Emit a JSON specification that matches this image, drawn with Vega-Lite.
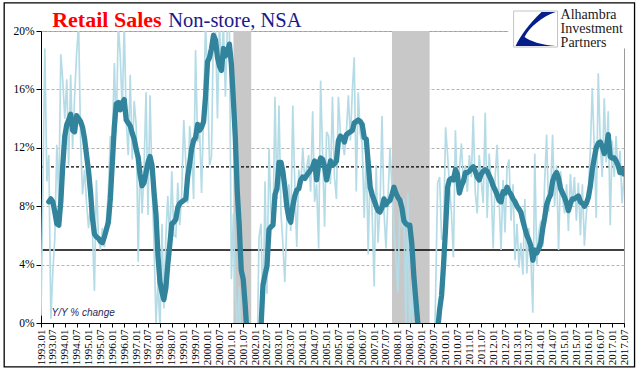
{
"$schema": "https://vega.github.io/schema/vega-lite/v6.json",
"width": 583, "height": 292,
"autosize": {"type": "none"},
"padding": {"left": 41, "top": 31, "right": 17, "bottom": 52},
"background": "white",
"config": {"view": {"stroke": "#9a9a9a", "strokeWidth": 1}, "font": "Liberation Serif"},
"data": {"format": {"parse": {"d": "utc:'%Y-%m'"}}, "values": [
{"d":"1993-01","m":0.5,"a":null},{"d":"1993-02","m":10.0,"a":null},{"d":"1993-03","m":18.8,"a":null},{"d":"1993-04","m":9.7,"a":null},{"d":"1993-05","m":11.5,"a":8.3},{"d":"1993-06","m":0.3,"a":8.5},{"d":"1993-07","m":3.5,"a":8.3},{"d":"1993-08","m":5.8,"a":7.6},{"d":"1993-09","m":12.2,"a":6.8},{"d":"1993-10","m":8.3,"a":6.7},{"d":"1993-11","m":18.4,"a":8.3},{"d":"1993-12","m":16.6,"a":10.8},
{"d":"1994-01","m":14.0,"a":12.8},{"d":"1994-02","m":16.7,"a":13.6},{"d":"1994-03","m":10.8,"a":13.9},{"d":"1994-04","m":17.0,"a":14.3},{"d":"1994-05","m":12.0,"a":13.2},{"d":"1994-06","m":15.5,"a":13.1},{"d":"1994-07","m":18.4,"a":14.2},{"d":"1994-08","m":20.5,"a":14.0},{"d":"1994-09","m":12.5,"a":13.8},{"d":"1994-10","m":8.8,"a":13.4},{"d":"1994-11","m":10.5,"a":12.6},{"d":"1994-12","m":8.2,"a":11.5},
{"d":"1995-01","m":6.5,"a":10.4},{"d":"1995-02","m":8.2,"a":8.9},{"d":"1995-03","m":6.3,"a":7.2},{"d":"1995-04","m":2.2,"a":6.1},{"d":"1995-05","m":9.8,"a":5.9},{"d":"1995-06","m":6.0,"a":5.8},{"d":"1995-07","m":5.0,"a":5.6},{"d":"1995-08","m":6.5,"a":5.5},{"d":"1995-09","m":5.2,"a":5.9},{"d":"1995-10","m":7.0,"a":6.4},{"d":"1995-11","m":9.0,"a":6.9},{"d":"1995-12","m":12.8,"a":8.5},
{"d":"1996-01","m":12.5,"a":11.0},{"d":"1996-02","m":17.8,"a":13.5},{"d":"1996-03","m":13.0,"a":15.0},{"d":"1996-04","m":20.5,"a":15.1},{"d":"1996-05","m":18.3,"a":14.6},{"d":"1996-06","m":14.5,"a":15.1},{"d":"1996-07","m":20.5,"a":15.3},{"d":"1996-08","m":13.9,"a":13.9},{"d":"1996-09","m":11.5,"a":13.7},{"d":"1996-10","m":17.0,"a":13.5},{"d":"1996-11","m":11.2,"a":13.0},{"d":"1996-12","m":15.2,"a":12.6},
{"d":"1997-01","m":13.5,"a":11.9},{"d":"1997-02","m":4.2,"a":11.3},{"d":"1997-03","m":11.5,"a":10.2},{"d":"1997-04","m":7.5,"a":9.4},{"d":"1997-05","m":10.5,"a":9.6},{"d":"1997-06","m":15.8,"a":10.3},{"d":"1997-07","m":7.4,"a":11.0},{"d":"1997-08","m":15.6,"a":11.4},{"d":"1997-09","m":9.5,"a":10.8},{"d":"1997-10","m":5.5,"a":9.0},{"d":"1997-11","m":0.0,"a":7.4},{"d":"1997-12","m":3.0,"a":4.6},
{"d":"1998-01","m":-0.5,"a":2.8},{"d":"1998-02","m":6.8,"a":2.1},{"d":"1998-03","m":1.0,"a":1.6},{"d":"1998-04","m":5.9,"a":2.4},{"d":"1998-05","m":8.7,"a":4.0},{"d":"1998-06","m":5.6,"a":5.4},{"d":"1998-07","m":10.4,"a":6.8},{"d":"1998-08","m":6.0,"a":6.9},{"d":"1998-09","m":5.9,"a":7.1},{"d":"1998-10","m":9.6,"a":7.9},{"d":"1998-11","m":6.7,"a":8.2},{"d":"1998-12","m":9.0,"a":8.3},
{"d":"1999-01","m":13.9,"a":8.4},{"d":"1999-02","m":11.0,"a":8.5},{"d":"1999-03","m":8.2,"a":10.0},{"d":"1999-04","m":13.5,"a":10.9},{"d":"1999-05","m":12.0,"a":11.9},{"d":"1999-06","m":8.5,"a":12.5},{"d":"1999-07","m":18.7,"a":12.7},{"d":"1999-08","m":12.4,"a":13.6},{"d":"1999-09","m":13.2,"a":13.2},{"d":"1999-10","m":8.9,"a":13.4},{"d":"1999-11","m":14.5,"a":13.8},{"d":"1999-12","m":20.5,"a":15.5},
{"d":"2000-01","m":16.5,"a":17.9},{"d":"2000-02","m":10.8,"a":18.2},{"d":"2000-03","m":11.4,"a":18.8},{"d":"2000-04","m":20.5,"a":19.7},{"d":"2000-05","m":20.5,"a":19.4},{"d":"2000-06","m":14.0,"a":18.2},{"d":"2000-07","m":20.5,"a":17.6},{"d":"2000-08","m":17.4,"a":17.3},{"d":"2000-09","m":20.5,"a":18.8},{"d":"2000-10","m":15.5,"a":18.3},{"d":"2000-11","m":20.5,"a":18.6},{"d":"2000-12","m":20.5,"a":19.1},
{"d":"2001-01","m":3.0,"a":17.7},{"d":"2001-02","m":7.5,"a":15.2},{"d":"2001-03","m":2.0,"a":12.8},{"d":"2001-04","m":-0.5,"a":9.0},{"d":"2001-05","m":2.5,"a":6.7},{"d":"2001-06","m":-3,"a":3.6},{"d":"2001-07","m":-2,"a":3.0},{"d":"2001-08","m":-6,"a":1.2},{"d":"2001-09","m":-5,"a":-1},{"d":"2001-10","m":-8,"a":-3},{"d":"2001-11","m":-6,"a":-4.5},{"d":"2001-12","m":-9,"a":-5},
{"d":"2002-01","m":-6,"a":-4.5},{"d":"2002-02","m":-2,"a":-3.5},{"d":"2002-03","m":5.9,"a":-2},{"d":"2002-04","m":6.8,"a":-0.2},{"d":"2002-05","m":0.0,"a":2.6},{"d":"2002-06","m":9.7,"a":3.3},{"d":"2002-07","m":2.0,"a":3.9},{"d":"2002-08","m":12.0,"a":6.4},{"d":"2002-09","m":7.5,"a":6.6},{"d":"2002-10","m":6.5,"a":6.7},{"d":"2002-11","m":15.5,"a":8.8},{"d":"2002-12","m":8.5,"a":9.2},
{"d":"2003-01","m":14.9,"a":11.0},{"d":"2003-02","m":7.5,"a":11.0},{"d":"2003-03","m":5.5,"a":10.4},{"d":"2003-04","m":2.8,"a":9.3},{"d":"2003-05","m":7.0,"a":8.0},{"d":"2003-06","m":9.5,"a":7.2},{"d":"2003-07","m":6.3,"a":6.9},{"d":"2003-08","m":14.9,"a":8.0},{"d":"2003-09","m":9.5,"a":8.7},{"d":"2003-10","m":5.2,"a":9.1},{"d":"2003-11","m":10.5,"a":9.2},{"d":"2003-12","m":9.3,"a":9.8},
{"d":"2004-01","m":12.0,"a":10.0},{"d":"2004-02","m":9.8,"a":9.9},{"d":"2004-03","m":10.6,"a":10.1},{"d":"2004-04","m":11.5,"a":10.3},{"d":"2004-05","m":9.0,"a":10.5},{"d":"2004-06","m":14.5,"a":10.7},{"d":"2004-07","m":8.3,"a":11.1},{"d":"2004-08","m":9.5,"a":9.8},{"d":"2004-09","m":5.1,"a":10.9},{"d":"2004-10","m":16.6,"a":11.3},{"d":"2004-11","m":11.5,"a":11.2},{"d":"2004-12","m":6.6,"a":10.7},
{"d":"2005-01","m":13.1,"a":9.8},{"d":"2005-02","m":12.8,"a":10.5},{"d":"2005-03","m":9.5,"a":11.1},{"d":"2005-04","m":15.5,"a":10.8},{"d":"2005-05","m":10.0,"a":10.9},{"d":"2005-06","m":8.5,"a":11.1},{"d":"2005-07","m":15.5,"a":12.5},{"d":"2005-08","m":13.0,"a":12.8},{"d":"2005-09","m":12.4,"a":12.7},{"d":"2005-10","m":11.5,"a":12.4},{"d":"2005-11","m":13.1,"a":12.9},{"d":"2005-12","m":15.6,"a":13.0},
{"d":"2006-01","m":12.5,"a":13.1},{"d":"2006-02","m":16.0,"a":13.2},{"d":"2006-03","m":18.2,"a":13.7},{"d":"2006-04","m":9.0,"a":13.8},{"d":"2006-05","m":15.8,"a":13.9},{"d":"2006-06","m":13.0,"a":13.8},{"d":"2006-07","m":12.3,"a":13.6},{"d":"2006-08","m":7.2,"a":12.7},{"d":"2006-09","m":12.0,"a":12.6},{"d":"2006-10","m":4.7,"a":11.0},{"d":"2006-11","m":10.8,"a":9.3},{"d":"2006-12","m":7.5,"a":8.8},
{"d":"2007-01","m":2.5,"a":8.4},{"d":"2007-02","m":10.8,"a":8.0},{"d":"2007-03","m":5.5,"a":7.7},{"d":"2007-04","m":8.0,"a":7.6},{"d":"2007-05","m":14.2,"a":7.9},{"d":"2007-06","m":7.6,"a":8.5},{"d":"2007-07","m":5.1,"a":8.1},{"d":"2007-08","m":8.5,"a":8.3},{"d":"2007-09","m":12.0,"a":8.4},{"d":"2007-10","m":9.2,"a":8.8},{"d":"2007-11","m":6.5,"a":9.3},{"d":"2007-12","m":4.5,"a":8.9},
{"d":"2008-01","m":2.1,"a":8.6},{"d":"2008-02","m":8.5,"a":8.4},{"d":"2008-03","m":6.5,"a":7.9},{"d":"2008-04","m":8.5,"a":7.0},{"d":"2008-05","m":-0.5,"a":6.8},{"d":"2008-06","m":8.9,"a":6.7},{"d":"2008-07","m":-1.0,"a":6.7},{"d":"2008-08","m":3.0,"a":5.4},{"d":"2008-09","m":-2,"a":3.2},{"d":"2008-10","m":-4,"a":1.6},{"d":"2008-11","m":-6,"a":0},{"d":"2008-12","m":-4,"a":-2},
{"d":"2009-01","m":-7,"a":-4},{"d":"2009-02","m":-5,"a":-5},{"d":"2009-03","m":-8,"a":-5.5},{"d":"2009-04","m":-4,"a":-5.5},{"d":"2009-05","m":-6,"a":-5},{"d":"2009-06","m":-3,"a":-4},{"d":"2009-07","m":-5,"a":-3},{"d":"2009-08","m":2,"a":-2},{"d":"2009-09","m":9.6,"a":-0.5},{"d":"2009-10","m":10.0,"a":0.9},{"d":"2009-11","m":5.7,"a":1.9},{"d":"2009-12","m":6.0,"a":4.0},
{"d":"2010-01","m":13.4,"a":6.5},{"d":"2010-02","m":11.5,"a":9.3},{"d":"2010-03","m":9.5,"a":9.8},{"d":"2010-04","m":7.5,"a":9.9},{"d":"2010-05","m":4.5,"a":9.8},{"d":"2010-06","m":13.2,"a":10.5},{"d":"2010-07","m":9.0,"a":10.2},{"d":"2010-08","m":10.5,"a":8.9},{"d":"2010-09","m":12.3,"a":9.4},{"d":"2010-10","m":9.5,"a":9.7},{"d":"2010-11","m":10.8,"a":10.3},{"d":"2010-12","m":9.0,"a":10.3},
{"d":"2011-01","m":11.5,"a":10.4},{"d":"2011-02","m":10.0,"a":10.6},{"d":"2011-03","m":14.2,"a":10.7},{"d":"2011-04","m":9.0,"a":10.4},{"d":"2011-05","m":7.5,"a":10.0},{"d":"2011-06","m":11.5,"a":9.8},{"d":"2011-07","m":9.8,"a":10.2},{"d":"2011-08","m":8.2,"a":10.4},{"d":"2011-09","m":14.4,"a":10.5},{"d":"2011-10","m":7.2,"a":10.4},{"d":"2011-11","m":11.6,"a":10.1},{"d":"2011-12","m":9.5,"a":9.8},
{"d":"2012-01","m":5.1,"a":9.4},{"d":"2012-02","m":10.0,"a":9.1},{"d":"2012-03","m":12.2,"a":8.8},{"d":"2012-04","m":8.5,"a":8.4},{"d":"2012-05","m":5.0,"a":8.3},{"d":"2012-06","m":9.8,"a":9.0},{"d":"2012-07","m":6.2,"a":8.9},{"d":"2012-08","m":10.6,"a":9.3},{"d":"2012-09","m":11.2,"a":9.0},{"d":"2012-10","m":7.0,"a":8.8},{"d":"2012-11","m":9.5,"a":8.5},{"d":"2012-12","m":4.3,"a":8.3},
{"d":"2013-01","m":6.8,"a":8.0},{"d":"2013-02","m":3.8,"a":7.8},{"d":"2013-03","m":5.5,"a":7.6},{"d":"2013-04","m":3.3,"a":7.0},{"d":"2013-05","m":8.5,"a":6.5},{"d":"2013-06","m":3.4,"a":6.0},{"d":"2013-07","m":6.5,"a":5.7},{"d":"2013-08","m":4.5,"a":5.3},{"d":"2013-09","m":0.7,"a":4.3},{"d":"2013-10","m":11.6,"a":5.0},{"d":"2013-11","m":4.0,"a":4.8},{"d":"2013-12","m":6.2,"a":5.1},
{"d":"2014-01","m":7.0,"a":5.5},{"d":"2014-02","m":5.2,"a":6.5},{"d":"2014-03","m":9.6,"a":7.2},{"d":"2014-04","m":12.9,"a":8.1},{"d":"2014-05","m":7.6,"a":8.5},{"d":"2014-06","m":9.0,"a":8.8},{"d":"2014-07","m":12.9,"a":9.7},{"d":"2014-08","m":8.0,"a":10.1},{"d":"2014-09","m":10.8,"a":10.3},{"d":"2014-10","m":5.0,"a":9.9},{"d":"2014-11","m":10.4,"a":9.2},{"d":"2014-12","m":8.6,"a":8.9},
{"d":"2015-01","m":7.5,"a":8.6},{"d":"2015-02","m":9.5,"a":8.2},{"d":"2015-03","m":6.3,"a":7.7},{"d":"2015-04","m":10.2,"a":8.2},{"d":"2015-05","m":8.0,"a":8.5},{"d":"2015-06","m":10.0,"a":8.5},{"d":"2015-07","m":7.0,"a":8.6},{"d":"2015-08","m":9.6,"a":8.7},{"d":"2015-09","m":6.0,"a":8.3},{"d":"2015-10","m":9.5,"a":8.2},{"d":"2015-11","m":5.3,"a":8.0},{"d":"2015-12","m":7.5,"a":8.2},
{"d":"2016-01","m":9.0,"a":8.6},{"d":"2016-02","m":12.0,"a":9.4},{"d":"2016-03","m":16.1,"a":10.5},{"d":"2016-04","m":12.0,"a":11.3},{"d":"2016-05","m":7.2,"a":12.0},{"d":"2016-06","m":17.1,"a":12.3},{"d":"2016-07","m":12.5,"a":12.4},{"d":"2016-08","m":10.0,"a":12.1},{"d":"2016-09","m":15.4,"a":11.6},{"d":"2016-10","m":11.0,"a":12.0},{"d":"2016-11","m":14.5,"a":12.9},{"d":"2016-12","m":6.7,"a":11.4},
{"d":"2017-01","m":12.5,"a":11.3},{"d":"2017-02","m":10.0,"a":11.3},{"d":"2017-03","m":12.8,"a":11.1},{"d":"2017-04","m":10.2,"a":10.8},{"d":"2017-05","m":11.8,"a":10.3},{"d":"2017-06","m":8.2,"a":10.5},{"d":"2017-07","m":10.0,"a":10.2}
]},
"layer": [
{
"data": {"values": [{"s":"2001-02","e":"2001-11"},{"s":"2007-10","e":"2009-05"}], "format": {"parse": {"s":"utc:'%Y-%m'","e":"utc:'%Y-%m'"}}},
"mark": {"type": "rect", "color": "#c8c8c8"},
"encoding": {
"x": {"field": "s", "type": "temporal", "title": null,
"scale": {"type": "utc", "domain": [{"year":1993,"month":1,"date":1,"utc":true},{"year":2017,"month":7,"date":1,"utc":true}], "nice": false},
"axis": {"tickCount": {"interval": "month", "step": 6}, "labelExpr": "utcFormat(datum.value, '%Y.%m')", "labelAngle": 270, "labelAlign": "right", "labelBaseline": "middle", "labelFont": "Liberation Serif", "labelFontSize": 11, "labelColor": "#000", "labelPadding": 2, "labelOverlap": false, "labelFlush": false, "tickColor": "#000", "tickSize": 4, "domainColor": "#000", "domainWidth": 1, "grid": false}},
"x2": {"field": "e"},
"y": {"datum": 0, "type": "quantitative", "title": null,
"scale": {"domain": [0, 20], "nice": false, "zero": false},
"axis": {"values": [0,4,8,12,16,20], "labelExpr": "datum.value + '%'", "labelFont": "Liberation Serif", "labelFontSize": 11.5, "labelColor": "#000", "labelPadding": 2, "tickColor": "#000", "tickSize": 5, "domainColor": "#000", "grid": true, "gridColor": "#b4b4b4", "gridDash": [3, 2], "gridWidth": 1}},
"y2": {"datum": 20}
}
},
{"data": {"values": [{}]}, "mark": {"type": "rule", "color": "#000", "strokeWidth": 1.2, "strokeDash": [3, 2]}, "encoding": {"y": {"datum": 10.7, "type": "quantitative"}}},
{"data": {"values": [{}]}, "mark": {"type": "rule", "color": "#000", "strokeWidth": 1.3}, "encoding": {"y": {"datum": 5, "type": "quantitative"}}},
{
"mark": {"type": "line", "color": "#b5dce6", "strokeWidth": 1.7, "clip": true},
"encoding": {"x": {"field": "d", "type": "temporal", "title": null}, "y": {"field": "m", "type": "quantitative", "title": null}}
},
{
"transform": [{"filter": "datum.a != null"}],
"mark": {"type": "line", "color": "#31849b", "strokeWidth": 5.3, "clip": true, "strokeJoin": "round", "strokeCap": "round"},
"encoding": {"x": {"field": "d", "type": "temporal", "title": null}, "y": {"field": "a", "type": "quantitative", "title": null}}
},
{
"data": {"values": [{}]},
"mark": {"type": "text", "text": "Y/Y % change", "font": "Liberation Sans", "fontStyle": "italic", "fontSize": 10, "color": "#1f2a5a", "align": "left", "baseline": "middle"},
"encoding": {"x": {"datum": {"year":1993,"month":6,"date":12,"utc":true}, "type": "temporal"}, "y": {"datum": 0.7, "type": "quantitative"}}
},
{
"data": {"values": [{}]},
"mark": {"type": "text", "text": "Retail Sales", "font": "Liberation Serif", "fontWeight": "bold", "fontSize": 22, "color": "#ff0000", "align": "left", "baseline": "alphabetic"},
"encoding": {"x": {"datum": {"year":1993,"month":6,"date":22,"utc":true}, "type": "temporal"}, "y": {"datum": 20.27, "type": "quantitative"}}
},
{
"data": {"values": [{}]},
"mark": {"type": "text", "text": "Non-store, NSA", "font": "Liberation Serif", "fontSize": 20.5, "color": "#1a1a8a", "align": "left", "baseline": "alphabetic"},
"encoding": {"x": {"datum": {"year":1998,"month":5,"date":8,"utc":true}, "type": "temporal"}, "y": {"datum": 20.27, "type": "quantitative"}}
},
{
"data": {"values": [{}]},
"mark": {"type": "rect", "color": "white"},
"encoding": {"x": {"datum": {"year":2012,"month":8,"date":20,"utc":true}, "type": "temporal"}, "x2": {"datum": {"year":2018,"month":3,"date":1,"utc":true}}, "y": {"datum": 18.8, "type": "quantitative"}, "y2": {"datum": 21.85}}
},
{
"data": {"values": [{}]},
"mark": {"type": "rect", "fill": "white", "stroke": "#c4c4c4", "strokeWidth": 1},
"encoding": {"x": {"datum": {"year":2012,"month":11,"date":10,"utc":true}, "type": "temporal"}, "x2": {"datum": {"year":2014,"month":9,"date":15,"utc":true}}, "y": {"datum": 18.9, "type": "quantitative"}, "y2": {"datum": 21.37}}
},
{
"data": {"values": [{}]},
"mark": {"type": "point", "filled": true, "opacity": 1, "color": "#061d8c", "size": 1600, "shape": "M1.0,-0.85 L0.3,-0.85 C-0.3,-0.3 -0.8,0.4 -1.0,0.85 L1.0,0.85 C0.3,0.8 -0.3,0.6 -0.55,0.4 C-0.3,-0.1 0.3,-0.6 1.0,-0.85 Z"},
"encoding": {"x": {"datum": {"year":2013,"month":10,"date":13,"utc":true}, "type": "temporal"}, "y": {"datum": 20.14, "type": "quantitative"}}
},
{
"data": {"values": [{"t": "Alhambra", "v": 20.8}, {"t": "Investment", "v": 19.83}, {"t": "Partners", "v": 18.87}]},
"mark": {"type": "text", "font": "Liberation Serif", "fontSize": 14, "color": "#1a1a1a", "align": "left", "baseline": "alphabetic"},
"encoding": {"x": {"datum": {"year":2014,"month":11,"date":1,"utc":true}, "type": "temporal"}, "y": {"field": "v", "type": "quantitative"}, "text": {"field": "t"}}
},
{
"data": {"values": [{}]},
"mark": {"type": "rect", "filled": false, "stroke": "#000", "strokeWidth": 1.3},
"encoding": {"x": {"datum": {"year":1991,"month":6,"date":16,"utc":true}, "type": "temporal"}, "x2": {"datum": {"year":2017,"month":12,"date":10,"utc":true}}, "y": {"datum": -3.0, "type": "quantitative"}, "y2": {"datum": 21.92}}
}
]
}
